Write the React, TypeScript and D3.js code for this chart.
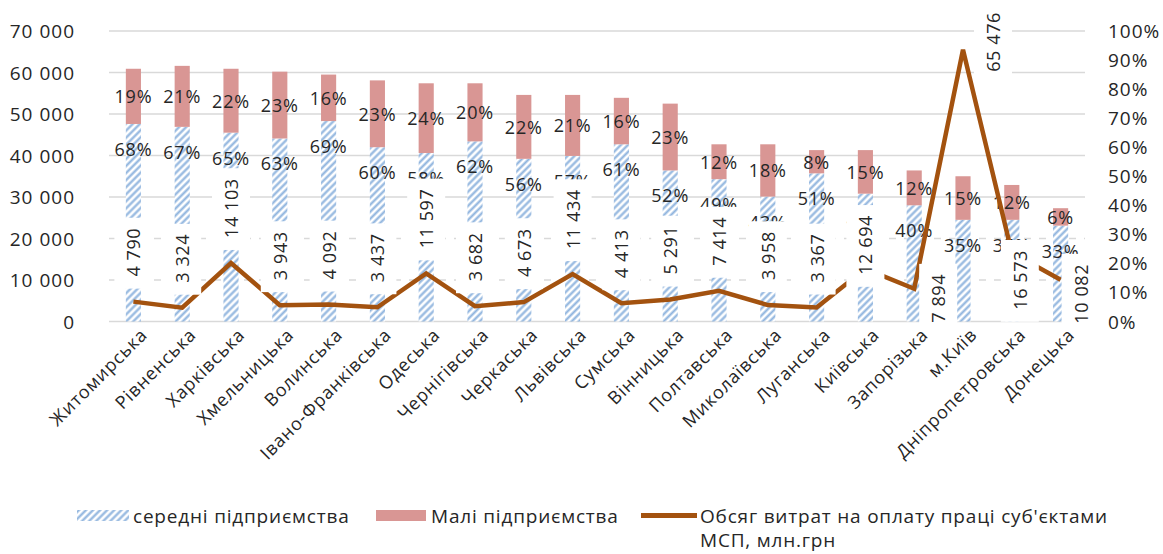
import React, { useEffect, useRef } from "react";
import * as d3 from "d3";

const categories = [
  "Житомирська", "Рівненська", "Харківська", "Хмельницька", "Волинська",
  "Івано-Франківська", "Одеська", "Чернігівська", "Черкаська", "Львівська",
  "Сумська", "Вінницька", "Полтавська", "Миколаївська", "Луганська",
  "Київська", "Запорізька", "м.Київ", "Дніпропетровська", "Донецька",
];
const mediumShare = [0.68, 0.67, 0.65, 0.63, 0.69, 0.60, 0.58, 0.62, 0.56, 0.57, 0.61, 0.52, 0.49, 0.43, 0.51, 0.44, 0.40, 0.35, 0.35, 0.33];
const smallShare = [0.19, 0.21, 0.22, 0.23, 0.16, 0.23, 0.24, 0.20, 0.22, 0.21, 0.16, 0.23, 0.12, 0.18, 0.08, 0.15, 0.12, 0.15, 0.12, 0.06];
const wageCosts = [4790, 3324, 14103, 3943, 4092, 3437, 11597, 3682, 4673, 11434, 4413, 5291, 7414, 3958, 3367, 12694, 7894, 65476, 16573, 10082];
const leftTicks = [0, 10000, 20000, 30000, 40000, 50000, 60000, 70000];
const rightTicks = [0, 0.1, 0.2, 0.3, 0.4, 0.5, 0.6, 0.7, 0.8, 0.9, 1.0];
const seriesNames = ["середні підприємства", "Малі підприємства", "Обсяг витрат на оплату праці суб'єктами", "МСП, млн.грн"];

// manual label nudges (style, not data)
const lineLabelNudge: Record<string, [number, number]> = {
  "Київська": [0, 31],
  "Запорізька": [24, 59],
  "м.Київ": [30, 47],
  "Дніпропетровська": [8, 82],
  "Донецька": [20, 69],
};

const FONT = "'Open Sans', 'Noto Sans', sans-serif";
const TEXT = "#262626";
const PINK = "#d99694";
const BLUE = "#8fb4de";
const BROWN = "#a3520f";
const GRID = "#d9d9d9";

export default function App() {
  const ref = useRef<SVGSVGElement | null>(null);

  useEffect(() => {
    const svg = d3.select(ref.current);
    svg.selectAll("*").remove();

    const left = 109, right = 1085, top = 31, bottom = 321.5;
    const x = d3.scaleBand<string>().domain(categories).range([left, right]).paddingInner(0.69).paddingOuter(0.345);
    const yL = d3.scaleLinear().domain([0, 70000]).range([bottom, top]);
    const yR = d3.scaleLinear().domain([0, 1]).range([bottom, top]);
    const cx = (c: string) => (x(c) as number) + x.bandwidth() / 2;
    const fmtNum = (v: number) => d3.format(",")(v).replace(/,/g, " ");
    const fmtPct = d3.format(".0%");

    const defs = svg.append("defs");
    const pat = defs.append("pattern").attr("id", "hatch").attr("patternUnits", "userSpaceOnUse")
      .attr("width", 5).attr("height", 5).attr("patternTransform", "rotate(45)");
    pat.append("rect").attr("width", 5).attr("height", 5).attr("fill", "#ffffff");
    pat.append("line").attr("x1", 1.5).attr("y1", 0).attr("x2", 1.5).attr("y2", 5)
      .attr("stroke", BLUE).attr("stroke-width", 2.2);

    // gridlines
    svg.append("g").selectAll("line").data(leftTicks).join("line")
      .attr("x1", left).attr("x2", right)
      .attr("y1", (d) => yL(d)).attr("y2", (d) => yL(d))
      .attr("stroke", GRID).attr("stroke-width", 1.5)
      .attr("stroke-dasharray", (d) => (d === 10000 || d === 20000 ? "7 8" : null));

    // left axis labels
    svg.append("g").selectAll("text").data(leftTicks).join("text")
      .attr("x", 75).attr("y", (d) => yL(d)).attr("text-anchor", "end").attr("dominant-baseline", "central")
      .attr("font-family", FONT).attr("font-size", 19).attr("letter-spacing", 1).attr("fill", TEXT)
      .text((d) => fmtNum(d));

    // right axis labels
    svg.append("g").selectAll("text").data(rightTicks).join("text")
      .attr("x", 1108).attr("y", (d) => yR(d)).attr("text-anchor", "start").attr("dominant-baseline", "central")
      .attr("font-family", FONT).attr("font-size", 19).attr("letter-spacing", 1).attr("fill", TEXT)
      .text((d) => fmtPct(d));

    const rows = categories.map((c, i) => ({ c, m: mediumShare[i], s: smallShare[i], w: wageCosts[i] }));

    // bars
    const bars = svg.append("g");
    bars.selectAll("rect.m").data(rows).join("rect").attr("class", "m")
      .attr("x", (d) => x(d.c) as number).attr("width", x.bandwidth())
      .attr("y", (d) => yR(d.m)).attr("height", (d) => yR(0) - yR(d.m))
      .attr("fill", "url(#hatch)");
    bars.selectAll("rect.s").data(rows).join("rect").attr("class", "s")
      .attr("x", (d) => x(d.c) as number).attr("width", x.bandwidth())
      .attr("y", (d) => yR(d.m + d.s)).attr("height", (d) => yR(d.m) - yR(d.m + d.s))
      .attr("fill", PINK);

    // percentage labels
    const pl = svg.append("g").attr("font-family", FONT).attr("font-size", 18).attr("letter-spacing", 0.8)
      .attr("fill", TEXT).attr("text-anchor", "middle").attr("dominant-baseline", "central");
    pl.selectAll("text.s").data(rows).join("text").attr("class", "s")
      .attr("x", (d) => cx(d.c)).attr("y", (d) => (yR(d.m) + yR(d.m + d.s)) / 2)
      .text((d) => fmtPct(d.s));
    pl.selectAll("text.m").data(rows).join("text").attr("class", "m")
      .attr("x", (d) => cx(d.c)).attr("y", (d) => yR(d.m) + 25)
      .text((d) => fmtPct(d.m));

    // line
    const line = d3.line<typeof rows[number]>().x((d) => cx(d.c)).y((d) => yL(d.w));
    svg.append("path").datum(rows).attr("d", line).attr("fill", "none")
      .attr("stroke", BROWN).attr("stroke-width", 4.5).attr("stroke-linejoin", "miter");

    // line value labels with white boxes
    const ll = svg.append("g");
    rows.forEach((d) => {
      const [dx, dy] = lineLabelNudge[d.c] || [0, 0];
      const lx = cx(d.c) + dx;
      const ly = yL(d.w) - 25 + dy;
      const g = ll.append("g");
      const rect = g.append("rect").attr("fill", "#ffffff");
      const t = g.append("text")
        .attr("transform", `translate(${lx},${ly}) rotate(-90)`)
        .attr("text-anchor", "start").attr("dominant-baseline", "central")
        .attr("font-family", FONT).attr("font-size", 18).attr("letter-spacing", 0.6).attr("fill", TEXT)
        .text(fmtNum(d.w));
      const len = (t.node() as SVGTextElement).getComputedTextLength();
      rect.attr("x", lx - 19).attr("width", 38).attr("y", ly - len - 10).attr("height", len + 22);
    });

    // category labels
    svg.append("g").selectAll("text").data(categories).join("text")
      .attr("transform", (c) => `translate(${cx(c) + 15},${336}) rotate(-45)`)
      .attr("text-anchor", "end")
      .attr("font-family", FONT).attr("font-size", 18).attr("letter-spacing", 0.8).attr("fill", TEXT)
      .text((c) => c);

    // legend
    const lg = svg.append("g").attr("font-family", FONT).attr("font-size", 19).attr("letter-spacing", 0.8).attr("fill", TEXT);
    lg.append("rect").attr("x", 77).attr("y", 510).attr("width", 52).attr("height", 11).attr("fill", "url(#hatch)");
    lg.append("text").attr("x", 133).attr("y", 516).attr("dominant-baseline", "central").text(seriesNames[0]);
    lg.append("rect").attr("x", 376).attr("y", 510).attr("width", 50).attr("height", 11).attr("fill", PINK);
    lg.append("text").attr("x", 431).attr("y", 516).attr("dominant-baseline", "central").text(seriesNames[1]);
    lg.append("line").attr("x1", 641).attr("x2", 697).attr("y1", 515.5).attr("y2", 515.5)
      .attr("stroke", BROWN).attr("stroke-width", 5);
    lg.append("text").attr("x", 700).attr("y", 516).attr("dominant-baseline", "central").text(seriesNames[2]);
    lg.append("text").attr("x", 700).attr("y", 540).attr("dominant-baseline", "central").text(seriesNames[3]);
  }, []);

  return (
    <svg ref={ref} width={1163} height={554}
      style={{ position: "absolute", left: 0, top: 0, background: "#ffffff" }} />
  );
}
